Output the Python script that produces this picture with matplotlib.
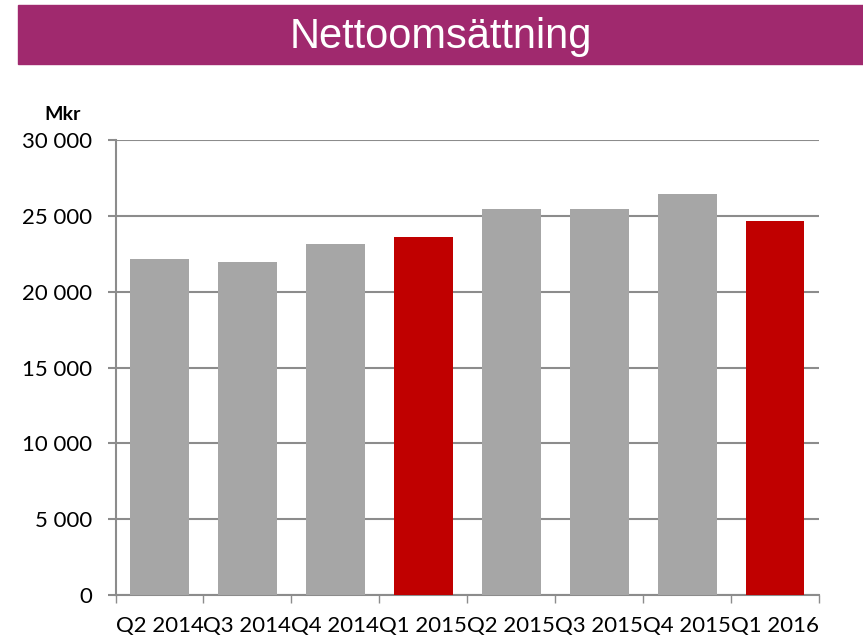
import numpy as np
import matplotlib
matplotlib.use("Agg")
import matplotlib.pyplot as plt
from matplotlib.ticker import FuncFormatter, FixedLocator
from matplotlib.patches import Rectangle

quarters = ["Q2 2014", "Q3 2014", "Q4 2014", "Q1 2015",
            "Q2 2015", "Q3 2015", "Q4 2015", "Q1 2016"]
sales = [22150, 21970, 23140, 23620, 25480, 25440, 26430, 24670]
highlight = [False, False, False, True, False, False, False, True]

GRAY = "#A6A6A6"
RED = "#C00000"
BANNER = "#A0296E"
LINE = "#8C8C8C"

fig = plt.figure(figsize=(8.63, 6.4), dpi=100)

# title banner
fig.patches.append(Rectangle((18 / 863, 1 - 64 / 640), 1 - 18 / 863, 59 / 640,
                             transform=fig.transFigure, color=BANNER, zorder=0))
fig.text(441 / 863, 1 - 37 / 640, "Nettoomsättning", color="white", fontsize=30,
         family="Liberation Sans", ha="center", va="center")

ax = fig.add_axes([115.5 / 863, 1 - 595 / 640, (819 - 115.5) / 863, 455 / 640])
x = np.arange(len(quarters))
colors = [RED if h else GRAY for h in highlight]
ax.bar(x, sales, width=0.67, color=colors, zorder=3)

ax.set_ylim(0, 30000)
ax.set_xlim(-0.5, len(quarters) - 0.5)
ax.set_yticks(np.arange(0, 30001, 5000))
ax.yaxis.set_major_formatter(FuncFormatter(lambda v, p: f"{int(v):,}".replace(",", " ")))
ax.grid(axis="y", color=LINE, linewidth=1.5, zorder=0)

ax.set_xticks(x)
ax.set_xticklabels(quarters)
ax.xaxis.set_minor_locator(FixedLocator(np.arange(-0.5, len(quarters), 1)))
ax.tick_params(axis="x", which="major", length=0, pad=15)
ax.tick_params(axis="x", which="minor", length=6, width=1, color=LINE)
ax.tick_params(axis="y", length=6, width=1.5, color=LINE, pad=11)

for lab in ax.get_xticklabels() + ax.get_yticklabels():
    lab.set_family("Lato")
    lab.set_fontsize(16)

for s in ["top", "right"]:
    ax.spines[s].set_visible(False)
ax.spines["left"].set_color(LINE)
ax.spines["left"].set_linewidth(1.5)
ax.spines["bottom"].set_color(LINE)
ax.spines["bottom"].set_linewidth(1.5)

fig.text(63 / 863, 1 - 115 / 640, "Mkr", fontsize=14, fontweight="bold",
         family="Lato", ha="center", va="center")

fig.savefig("out.png", dpi=100)
